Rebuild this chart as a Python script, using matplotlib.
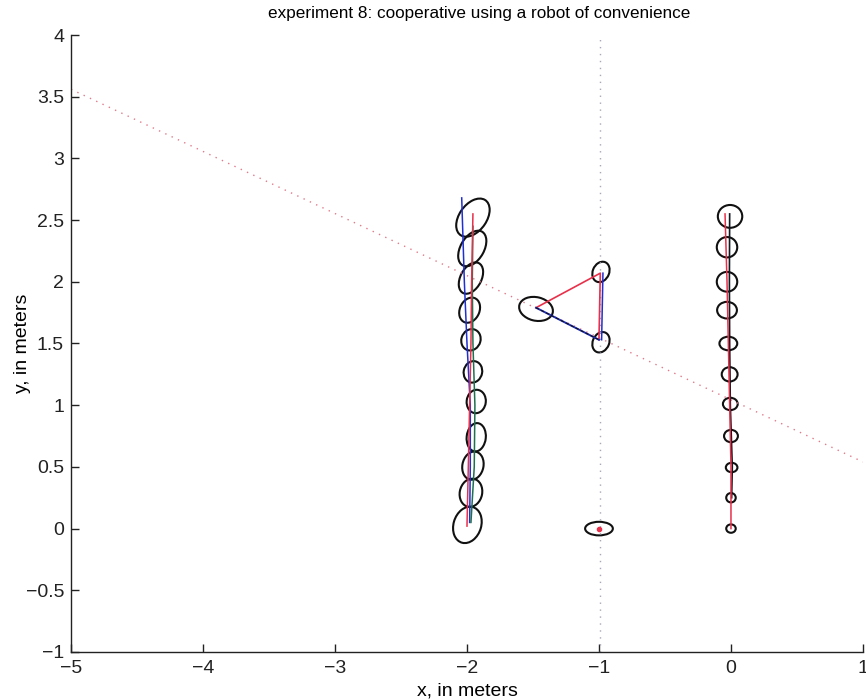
import matplotlib
matplotlib.use("Agg")
import matplotlib.pyplot as plt
from matplotlib.patches import Ellipse

plt.rcParams['font.family'] = ['Liberation Sans', 'DejaVu Sans']

# ---------------- data ----------------
title = "experiment 8: cooperative using a robot of convenience"
xlabel = "x, in meters"
ylabel = "y, in meters"
xticks = [-5, -4, -3, -2, -1, 0, 1]
yticks = [-1, -0.5, 0, 0.5, 1, 1.5, 2, 2.5, 3, 3.5, 4]

# robot 1 uncertainty ellipses (x, y, major, minor, angle)
r1_ex = [-1.997, -1.97, -1.955, -1.93, -1.93, -1.955, -1.97, -1.98, -1.97, -1.96, -1.955]
r1_ey = [0.03, 0.29, 0.51, 0.74, 1.03, 1.27, 1.53, 1.77, 2.03, 2.27, 2.52]
r1_ew = [0.30, 0.23, 0.23, 0.23, 0.19, 0.175, 0.175, 0.21, 0.27, 0.31, 0.34]
r1_eh = [0.21, 0.17, 0.16, 0.145, 0.145, 0.14, 0.145, 0.15, 0.16, 0.18, 0.21]
r1_ea = [75, 80, 80, 85, 85, 80, 75, 70, 65, 63, 58]

# robot 2 uncertainty ellipses
r2_ex = [0.0, 0.0, 0.005, 0.0, -0.005, -0.01, -0.02, -0.03, -0.03, -0.03, -0.007]
r2_ey = [0.0, 0.25, 0.495, 0.75, 1.01, 1.25, 1.50, 1.77, 2.0, 2.28, 2.53]
r2_ew = [0.072, 0.072, 0.088, 0.105, 0.112, 0.12, 0.135, 0.15, 0.155, 0.155, 0.185]
r2_eh = [0.068, 0.076, 0.076, 0.10, 0.10, 0.116, 0.11, 0.135, 0.16, 0.165, 0.185]
r2_ea = [0, 0, 0, 0, 0, 0, 0, 0, 0, 0, 0]

# triangle / landmark ellipses
tri_ex = [-1.477, -0.985, -0.985, -1.0]
tri_ey = [1.78, 2.08, 1.51, 0.0]
tri_ew = [0.26, 0.17, 0.17, 0.21]
tri_eh = [0.19, 0.125, 0.125, 0.11]
tri_ea = [-15, 70, 70, 0]

# robot 1 paths
r1_red_x = [-2.00, -1.99, -1.98, -1.97, -1.965, -1.955]
r1_red_y = [0.02, 0.5, 1.0, 1.5, 2.0, 2.55]
r1_blue_x = [-1.98, -1.975, -1.975, -2.00, -2.02, -2.04]
r1_blue_y = [0.05, 0.5, 1.0, 1.5, 2.0, 2.68]
r1_green_x = [-1.97, -1.945, -1.94, -1.955, -1.96, -1.955]
r1_green_y = [0.05, 0.5, 1.0, 1.5, 2.0, 2.45]

# robot 2 paths
r2_red_x = [0.0, 0.0, -0.01, -0.02, -0.03, -0.045]
r2_red_y = [0.0, 0.5, 1.0, 1.5, 2.0, 2.55]
r2_black_x = [0.005, 0.01, -0.005, -0.01, -0.012, -0.01]
r2_black_y = [0.25, 0.5, 1.0, 1.5, 2.0, 2.55]

# triangle vertices (left, top, bottom)
tri_vx = [-1.477, -0.99, -1.0]
tri_vy = [1.79, 2.07, 1.53]

# dotted reference lines
diag_x = [-5, 1]
diag_y = [3.56, 0.54]
vert_x = [-0.99, -0.99]
vert_y = [-1, 4]

# lone landmark point
pt_x = [-1.0]
pt_y = [0.0]

# ---------------- plot ----------------
fig = plt.figure(figsize=(8.66, 7.0), dpi=100)
ax = fig.add_axes([0.082, 0.0686, 0.9145, 0.8814])

ax.plot(diag_x, diag_y, linestyle=(0, (1, 4)), color='#e07a8a', lw=1.0)
ax.plot(vert_x, vert_y, linestyle=(0, (1, 4)), color='#a8a8b8', lw=1.0)

ax.plot(r1_blue_x, r1_blue_y, color='#2030d0', lw=1.1)
ax.plot(r1_green_x, r1_green_y, color='#207050', lw=1.1)
ax.plot(r1_red_x, r1_red_y, color='#e8304a', lw=1.1)

ax.plot(r2_black_x, r2_black_y, color='#101820', lw=1.2)
ax.plot(r2_red_x, r2_red_y, color='#e8304a', lw=1.1)

# triangle edges
ax.plot([tri_vx[0], tri_vx[1], tri_vx[2]], [tri_vy[0], tri_vy[1], tri_vy[2]],
        color='#e8304a', lw=1.2)
ax.plot([tri_vx[0], tri_vx[2]], [tri_vy[0], tri_vy[2]], color='#2030b0', lw=1.4)
ax.plot([tri_vx[0], tri_vx[2]], [tri_vy[0], tri_vy[2]], color='#101020', lw=0.8,
        linestyle=(0, (3, 2)))
ax.plot([tri_vx[1] + 0.02, tri_vx[2] + 0.02], [tri_vy[1], tri_vy[2]], color='#2030d0', lw=1.1)

ax.plot(pt_x, pt_y, 'o', color='#e8304a', ms=3)

for xs, ys, ws, hs, angs in [(r1_ex, r1_ey, r1_ew, r1_eh, r1_ea),
                             (r2_ex, r2_ey, r2_ew, r2_eh, r2_ea),
                             (tri_ex, tri_ey, tri_ew, tri_eh, tri_ea)]:
    for x, y, w, h, a in zip(xs, ys, ws, hs, angs):
        ax.add_patch(Ellipse((x, y), w, h, angle=a, fill=False,
                             edgecolor='#111111', lw=1.5))

ax.set_xlim(-5, 1)
ax.set_ylim(-1, 4)
ax.set_xticks(xticks)
ax.set_yticks(yticks)
ax.set_xticklabels([f"{t:g}".replace('-', '\u2212') for t in xticks])
ax.set_yticklabels([f"{t:g}".replace('-', '\u2212') for t in yticks])
ax.spines['top'].set_visible(False)
ax.spines['right'].set_visible(False)
for s in ['left', 'bottom']:
    ax.spines[s].set_linewidth(1.0)
    ax.spines[s].set_color('#222222')
ax.tick_params(direction='in', length=6, width=1.0, labelsize=14, colors='#222222')
ax.tick_params(axis='x', pad=6)
ax.tick_params(axis='y', pad=5)
ax.set_title(title, fontsize=12.3, pad=12, x=0.515)
ax.set_xlabel(xlabel, fontsize=14, labelpad=4)
ax.set_ylabel(ylabel, fontsize=14, labelpad=-4)

fig.savefig("out.png", dpi=100)
